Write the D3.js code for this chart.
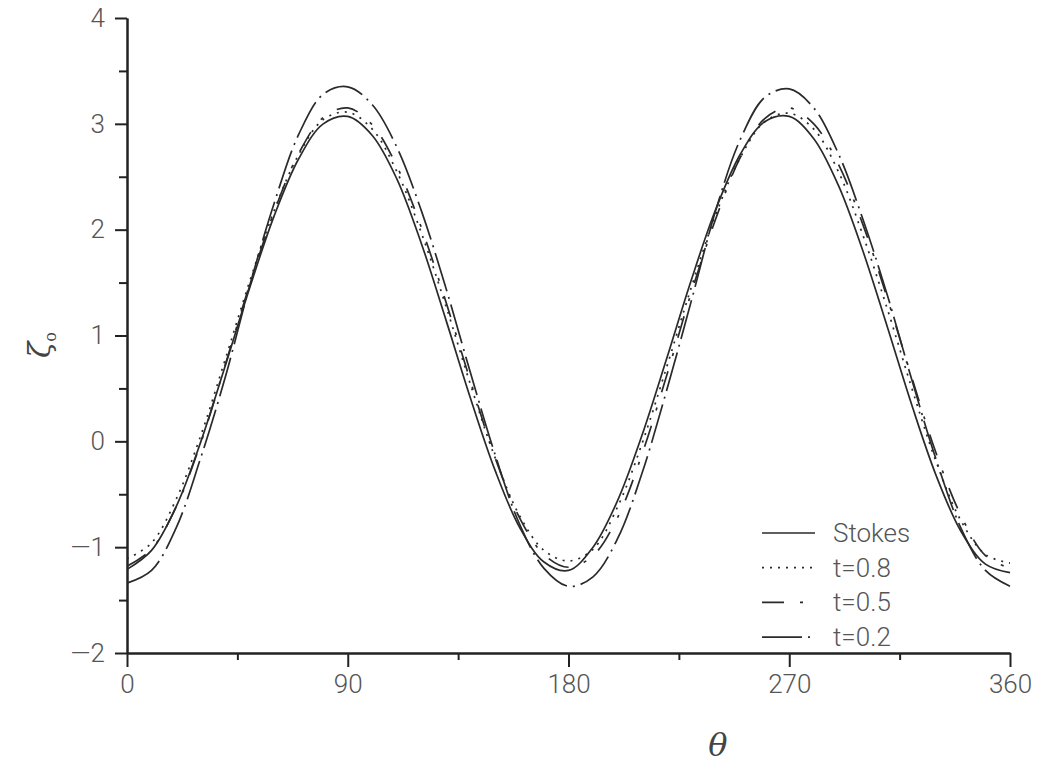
<!DOCTYPE html>
<html>
<head>
<meta charset="utf-8">
<script src="https://cdn.jsdelivr.net/npm/d3@7"></script>
<style>
  body { margin: 0; background: #fff; }
  svg { display: block; }
  .tick text { font-family: Roboto, "DejaVu Sans", sans-serif; font-weight: 300; fill: #555; }
</style>
</head>
<body>
<svg id="chart" width="1045" height="767"></svg>
<script>
// angle grid, degrees
const theta = [0, 10, 20, 30, 40, 50, 60, 70, 80, 90, 100, 110, 120, 130, 140, 150, 160, 170, 180,
  190, 200, 210, 220, 230, 240, 250, 260, 270, 280, 290, 300, 310, 320, 330, 340, 350, 360];

const stokes = [-1.21, -1.03, -0.62, -0.01, 0.71, 1.45, 2.13, 2.67, 3.00, 3.07, 2.89, 2.48, 1.87, 1.15, 0.41, -0.27, -0.81, -1.14, -1.22,
  -1.00, -0.56, 0.06, 0.78, 1.52, 2.19, 2.71, 3.02, 3.07, 2.86, 2.42, 1.80, 1.08, 0.34, -0.33, -0.85, -1.16, -1.24];
const t08 = [-1.11, -0.96, -0.55, 0.05, 0.77, 1.51, 2.18, 2.71, 3.04, 3.11, 2.95, 2.55, 1.97, 1.28, 0.54, -0.15, -0.70, -1.03, -1.13,
  -1.02, -0.62, -0.02, 0.70, 1.45, 2.14, 2.68, 3.02, 3.10, 2.95, 2.55, 1.95, 1.25, 0.50, -0.20, -0.75, -1.07, -1.15];
const t05 = [-1.18, -1.02, -0.62, -0.02, 0.72, 1.48, 2.17, 2.72, 3.06, 3.15, 2.99, 2.60, 2.02, 1.32, 0.57, -0.15, -0.72, -1.07, -1.19,
  -1.08, -0.72, -0.12, 0.62, 1.40, 2.10, 2.68, 3.05, 3.15, 3.00, 2.62, 2.05, 1.35, 0.60, -0.12, -0.70, -1.08, -1.20];
const t02 = [-1.34, -1.22, -0.82, -0.16, 0.60, 1.47, 2.25, 2.90, 3.28, 3.35, 3.18, 2.78, 2.18, 1.45, 0.65, -0.12, -0.78, -1.20, -1.37,
  -1.28, -0.92, -0.30, 0.48, 1.32, 2.18, 2.85, 3.25, 3.33, 3.15, 2.72, 2.10, 1.38, 0.58, -0.18, -0.82, -1.22, -1.37];

const seriesNames = ["Stokes", "t=0.8", "t=0.5", "t=0.2"];
const xMajor = [0, 90, 180, 270, 360];
const xMinor = [45, 135, 225, 315];
const yMajor = [-2, -1, 0, 1, 2, 3, 4];
const yMinor = [-1.5, -0.5, 0.5, 1.5, 2.5, 3.5];

const series = [stokes, t08, t05, t02];
const dashes = [null, "2,6", "22,16,3,16", "40,6,2,6"];

const svg = d3.select("#chart");
const x = d3.scaleLinear().domain([0, 360]).range([127, 1010]);
const y = d3.scaleLinear().domain([-2, 4]).range([653, 18]);

const fmt = d => d < 0 ? "\u2014" + Math.abs(d) : String(d);

// y axis
const gy = svg.append("g").attr("transform", "translate(" + x(0) + ",0)");
gy.call(d3.axisLeft(y).tickValues(yMajor).tickSize(12).tickSizeOuter(0).tickFormat(fmt));
gy.append("g").call(d3.axisLeft(y).tickValues(yMinor).tickSize(8).tickSizeOuter(0).tickFormat(""));
gy.selectAll("text").attr("font-size", 26).attr("x", -22);

// x axis
const gx = svg.append("g").attr("transform", "translate(0," + y(-2) + ")");
gx.call(d3.axisBottom(x).tickValues(xMajor).tickSize(14).tickSizeOuter(0));
gx.append("g").call(d3.axisBottom(x).tickValues(xMinor).tickSize(7).tickSizeOuter(0).tickFormat(""));
gx.selectAll("text").attr("font-size", 26).attr("y", 22);

svg.selectAll(".domain, .tick line").attr("stroke", "#222").attr("stroke-width", 2);

// curves
const line = d3.line()
  .x((d, i) => x(theta[i]))
  .y(d => y(d))
  .curve(d3.curveCatmullRom);

series.forEach((s, k) => {
  svg.append("path")
    .attr("d", line(s))
    .attr("fill", "none")
    .attr("stroke", "#2a2a2a")
    .attr("stroke-width", 1.7)
    .attr("stroke-dasharray", dashes[k]);
});

// legend
const legend = svg.append("g").attr("id", "legend");
seriesNames.forEach((name, k) => {
  const ly = 533 + k * 34.7;
  legend.append("line")
    .attr("x1", 762).attr("x2", 815)
    .attr("y1", ly).attr("y2", ly)
    .attr("stroke", "#2a2a2a")
    .attr("stroke-width", 1.7)
    .attr("stroke-dasharray", dashes[k]);
  legend.append("text")
    .attr("x", 833).attr("y", ly + 9)
    .attr("font-family", "Roboto, 'DejaVu Sans', sans-serif")
    .attr("font-weight", 300)
    .attr("font-size", 26)
    .attr("fill", "#555")
    .text(name);
});

// axis titles
svg.append("text")
  .attr("x", 718).attr("y", 756)
  .attr("text-anchor", "middle")
  .attr("font-family", "'DejaVu Serif', 'Liberation Serif', serif")
  .attr("font-style", "italic")
  .attr("font-size", 32)
  .attr("fill", "#444")
  .text("\u03b8");

const yt = svg.append("text")
  .attr("transform", "translate(50,345) rotate(-90)")
  .attr("text-anchor", "middle")
  .attr("font-family", "'DejaVu Serif', 'Liberation Serif', serif")
  .attr("font-style", "italic")
  .attr("font-size", 30)
  .attr("fill", "#444");
yt.append("tspan").text("\u03b6");
yt.append("tspan").attr("dy", 6).attr("font-size", 16).attr("font-style", "normal").text("o");
</script>
</body>
</html>
